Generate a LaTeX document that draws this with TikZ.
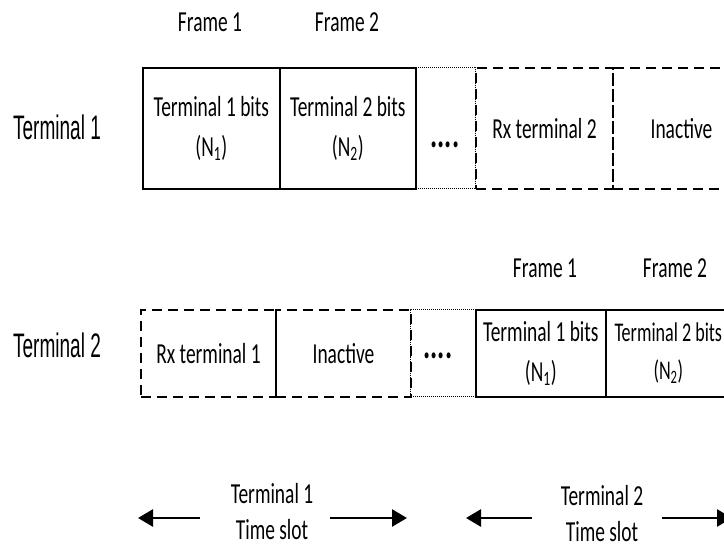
\documentclass[tikz,border=0pt]{standalone}
\usepackage{fontspec}
\setmainfont[FakeStretch=0.67]{Carlito}
\newfontfamily\lblfont[FakeStretch=0.56]{Liberation Sans}
\usetikzlibrary{arrows.meta}
\begin{document}
\begin{tikzpicture}[x=1pt,y=-1pt,
  every node/.style={font=\fontsize{29}{40}\selectfont, inner sep=0pt},
  solidbox/.style={draw, line width=1.6pt, anchor=north west, align=center},
  dashbox/.style={draw, line width=2pt, dash pattern=on 10pt off 6pt, anchor=north west, align=center},
  dotbox/.style={draw, line width=1pt, densely dotted, anchor=north west},
  dotstext/.style={font=\fontsize{40}{40}\selectfont\bfseries},
  rowlbl/.style={font=\fontsize{34}{40}\lblfont},
  slotlbl/.style={align=center, font=\fontsize{29}{36}\selectfont},
  tarrow/.style={line width=2.6pt, -{Triangle[length=15pt, width=17pt]}}
]
\useasboundingbox (0,0) rectangle (724,548);

% Row 1
\node[rowlbl] (lbl1) at (57,127) {Terminal 1};
\node (f1a) at (210,22) {Frame 1};
\node (f2a) at (347,22) {Frame 2};
\node[solidbox, minimum width=137pt, minimum height=121pt] (t1b) at (142,67) {Terminal 1 bits\\(N\textsubscript{1})};
\node[solidbox, minimum width=136pt, minimum height=121pt] (t2b) at (279,67) {Terminal 2 bits\\(N\textsubscript{2})};
\node[dotbox, minimum width=60pt, minimum height=121pt] (dots1) at (415,67) {};
\node[dotstext] (d1) at (445,145) {....};
\node[dashbox, minimum width=137pt, minimum height=121pt] (rx2) at (475,67) {Rx terminal 2};
\node[dashbox, minimum width=137pt, minimum height=121pt] (ina1) at (612,67) {Inactive};

% Row 2
\node[rowlbl] (lbl2) at (57,345) {Terminal 2};
\node (f1b) at (545,268) {Frame 1};
\node (f2b) at (675,268) {Frame 2};
\node[dashbox, minimum width=135pt, minimum height=87pt] (rx1) at (140,309) {Rx terminal 1};
\node[dashbox, minimum width=135pt, minimum height=87pt] (ina2) at (275,309) {Inactive};
\node[dotbox, minimum width=65pt, minimum height=87pt] (dots2) at (410,309) {};
\node[dotstext] (d2) at (438,356) {....};
\node[solidbox, minimum width=130pt, minimum height=87pt] (t1c) at (475,309) {Terminal 1 bits\\(N\textsubscript{1})};
\node[solidbox, minimum width=125pt, minimum height=87pt, font=\fontsize{27}{38}\selectfont] (t2c) at (605,309) {Terminal 2 bits\\(N\textsubscript{2})};

% Time slots
\node[slotlbl] (ts1) at (272,512) {Terminal 1\\Time slot};
\node[slotlbl] (ts2) at (602,514) {Terminal 2\\Time slot};
\coordinate (a1s) at (200,518);
\coordinate (a1e) at (138,518);
\coordinate (a2s) at (330,518);
\coordinate (a2e) at (407,518);
\coordinate (a3s) at (532,518);
\coordinate (a3e) at (466,518);
\coordinate (a4s) at (662,518);
\coordinate (a4e) at (732,518);
\draw[tarrow] (a1s) -- (a1e);
\draw[tarrow] (a2s) -- (a2e);
\draw[tarrow] (a3s) -- (a3e);
\draw[tarrow] (a4s) -- (a4e);
\end{tikzpicture}
\end{document}
